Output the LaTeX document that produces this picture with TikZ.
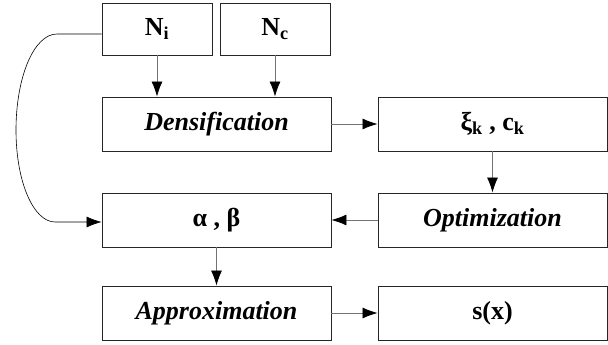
\documentclass[tikz,border=0pt]{standalone}
\usepackage{fontspec}
\setmainfont{Liberation Serif}
\usetikzlibrary{arrows.meta,positioning}
\tikzset{
  blok/.style={draw=black!85, line width=0.9pt, minimum width=229pt, minimum height=54pt, inner sep=0pt, font=\fontsize{26}{30}\selectfont\bfseries},
  maly/.style={blok, minimum width=110pt, minimum height=52pt},
  grot/.style={-{Latex[length=15pt,width=11pt,color=black]}},
  strz/.style={grot, draw=black!55, line width=0.8pt}
}
\begin{document}
\begin{tikzpicture}[x=1pt,y=1pt]
        \useasboundingbox (0,0) rectangle (608,345);
        % Bloki
        \node[maly] (Ni) at (157,316) {N\textsubscript{i}};
        \node[maly] (Nc) at (275,316) {N\textsubscript{c}};
        \node[blok] (dens) at (216.5,221) {\itshape Densification};
        \node[blok] (xi) at (492.5,221) {ξ\textsubscript{k} , c\textsubscript{k}};
        \node[blok] (opt) at (492.5,125) {\itshape Optimization};
        \node[blok] (ab) at (216.5,125) {α , β};
        \node[blok] (appr) at (216.5,32) {\itshape Approximation};
        \node[blok] (sx) at (492.5,32) {s(x)};
        
        % Strzałki
        \draw[strz] (Ni) -- (Ni |- dens.north);
        \draw[strz] (Nc) -- (Nc |- dens.north);
        \draw[strz] (dens) -- (xi);
        \draw[strz] (xi) -- (opt);
        \draw[strz] (opt) -- (ab);
        \draw[strz] (ab) -- (appr);
        \draw[strz] (appr) -- (sx);
        
        % Pętla
        \coordinate (L1) at (57,311);
        \coordinate (L2) at (16,215);
        \coordinate (L3) at (55,123);
        \draw[grot, line width=0.6pt] ([yshift=-5pt]Ni.west) -- (L1)
          .. controls (34,311) and (16,268) .. (L2)
          .. controls (16,162) and (34,123) .. (L3) -- (ab.west |- L3);
        
    \end{tikzpicture}
\end{document}
